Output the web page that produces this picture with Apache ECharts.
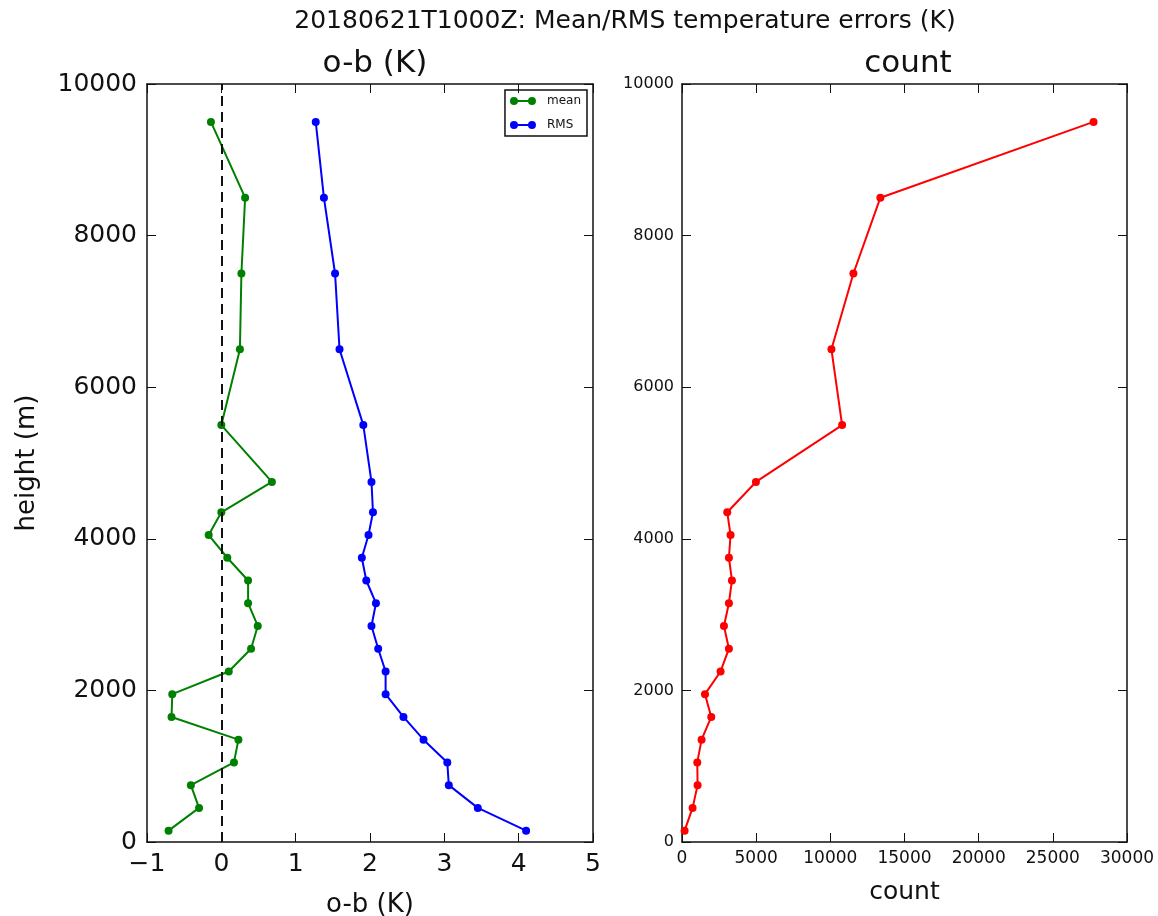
<!DOCTYPE html>
<html>
<head>
<meta charset="utf-8">
<script src="https://cdn.jsdelivr.net/npm/echarts@6/dist/echarts.min.js"></script>
<style>
  html, body { margin: 0; padding: 0; background: #fff; }
  #chart { width: 1158px; height: 916px; }
</style>
</head>
<body>
<div id="chart"></div>
<script>
// Observation heights (m), bin centres
const heights = [150, 450, 750, 1050, 1350, 1650, 1950, 2250, 2550, 2850, 3150,
                 3450, 3750, 4050, 4350, 4750, 5500, 6500, 7500, 8500, 9500];
// Mean o-b temperature error (K)
const meanErr = [-0.71, -0.30, -0.41, 0.17, 0.23, -0.67, -0.66, 0.10, 0.40, 0.49, 0.36,
                 0.36, 0.08, -0.17, 0.00, 0.68, 0.00, 0.25, 0.27, 0.32, -0.14];
// RMS o-b temperature error (K)
const rmsErr = [4.10, 3.45, 3.06, 3.04, 2.72, 2.45, 2.21, 2.21, 2.11, 2.02, 2.08,
                1.95, 1.89, 1.98, 2.04, 2.02, 1.91, 1.59, 1.53, 1.38, 1.27];
// Number of observations per level
const counts = [175, 714, 1051, 1030, 1320, 1973, 1549, 2600, 3163, 2828, 3163,
                3367, 3163, 3274, 3051, 4983, 10795, 10074, 11556, 13374, 27744];

const FONT = 'DejaVu Sans';
const pairs = (xs) => heights.map((h, i) => [xs[i], h]);
const signed = (v) => (v < 0 ? '\u2212' + Math.abs(v) : String(v));
const plain = (v) => String(v);

const axisLine = { show: true, onZero: false, lineStyle: { color: '#111', width: 1.5 } };
const tickIn = { show: true, inside: true, length: 9, lineStyle: { color: '#111', width: 1 } };
const frame = { axisLine, axisTick: tickIn, splitLine: { show: false }, axisLabel: { show: false } };

// Line-with-two-dots legend glyph
const legendIcon = 'path://M4,0 A4,4 0 1,1 4,8 A4,4 0 1,1 4,0 Z M4,3 L22,3 L22,5 L4,5 Z M22,0 A4,4 0 1,1 22,8 A4,4 0 1,1 22,0 Z';

const chart = echarts.init(document.getElementById('chart'), null, { renderer: 'canvas' });

const option = {
  backgroundColor: '#fff',
  animation: false,
  textStyle: { fontFamily: FONT },
  title: [
    { text: '20180621T1000Z: Mean/RMS temperature errors (K)', left: 620, top: 4, textAlign: 'center',
      textStyle: { fontFamily: FONT, fontSize: 25, fontWeight: 'normal', color: '#111' } },
    { text: 'o-b (K)', left: 370, top: 43, textAlign: 'center',
      textStyle: { fontFamily: FONT, fontSize: 31, fontWeight: 'normal', color: '#111' } },
    { text: 'count', left: 903, top: 43, textAlign: 'center',
      textStyle: { fontFamily: FONT, fontSize: 31, fontWeight: 'normal', color: '#111' } }
  ],
  legend: {
    data: ['mean', 'RMS'],
    orient: 'vertical',
    right: 571,
    top: 90,
    borderColor: '#111',
    borderWidth: 1.5,
    padding: [5, 6, 5, 5],
    itemGap: 12,
    itemWidth: 26,
    itemHeight: 8,
    icon: legendIcon,
    textStyle: { fontFamily: FONT, fontSize: 12, color: '#111', padding: [0, 0, 0, 6] }
  },
  grid: [
    { left: 147, right: 565, top: 84, bottom: 74, outerBoundsMode: 'none' },
    { left: 682, right: 31, top: 84, bottom: 74, outerBoundsMode: 'none' }
  ],
  xAxis: [
    { gridIndex: 0, type: 'value', min: -1, max: 5, interval: 1,
      name: 'o-b (K)', nameLocation: 'middle', nameGap: 50,
      nameTextStyle: { fontFamily: FONT, fontSize: 26, color: '#111' },
      axisLine, axisTick: tickIn, splitLine: { show: false },
      axisLabel: { fontFamily: FONT, fontSize: 25, color: '#111', margin: 10, formatter: signed } },
    Object.assign({ gridIndex: 0, type: 'value', position: 'top', min: -1, max: 5, interval: 1 }, frame),
    { gridIndex: 1, type: 'value', min: 0, max: 30000, interval: 5000,
      name: 'count', nameLocation: 'middle', nameGap: 38,
      nameTextStyle: { fontFamily: FONT, fontSize: 25, color: '#111' },
      axisLine, axisTick: tickIn, splitLine: { show: false },
      axisLabel: { fontFamily: FONT, fontSize: 17, color: '#111', margin: 8, formatter: plain } },
    Object.assign({ gridIndex: 1, type: 'value', position: 'top', min: 0, max: 30000, interval: 5000 }, frame)
  ],
  yAxis: [
    { gridIndex: 0, type: 'value', min: 0, max: 10000, interval: 2000,
      name: 'height (m)', nameLocation: 'middle', nameGap: 107,
      nameTextStyle: { fontFamily: FONT, fontSize: 26, color: '#111' },
      axisLine, axisTick: tickIn, splitLine: { show: false },
      axisLabel: { fontFamily: FONT, fontSize: 25, color: '#111', margin: 10, formatter: plain } },
    Object.assign({ gridIndex: 0, type: 'value', position: 'right', min: 0, max: 10000, interval: 2000 }, frame),
    { gridIndex: 1, type: 'value', min: 0, max: 10000, interval: 2000,
      axisLine, axisTick: tickIn, splitLine: { show: false },
      axisLabel: { fontFamily: FONT, fontSize: 16, color: '#111', margin: 8, formatter: plain } },
    Object.assign({ gridIndex: 1, type: 'value', position: 'right', min: 0, max: 10000, interval: 2000 }, frame)
  ],
  series: [
    { name: 'mean', type: 'line', xAxisIndex: 0, yAxisIndex: 0, data: pairs(meanErr),
      color: '#008000', symbol: 'circle', symbolSize: 8,
      lineStyle: { width: 2, color: '#008000' }, itemStyle: { color: '#008000' },
      markLine: {
        silent: true, symbol: 'none', label: { show: false },
        lineStyle: { color: '#111', width: 2, type: [10, 6] },
        data: [{ xAxis: 0 }]
      } },
    { name: 'RMS', type: 'line', xAxisIndex: 0, yAxisIndex: 0, data: pairs(rmsErr),
      color: '#0000ff', symbol: 'circle', symbolSize: 8,
      lineStyle: { width: 2, color: '#0000ff' }, itemStyle: { color: '#0000ff' } },
    { name: 'count', type: 'line', xAxisIndex: 2, yAxisIndex: 2, data: pairs(counts),
      color: '#ff0000', symbol: 'circle', symbolSize: 8,
      lineStyle: { width: 2, color: '#ff0000' }, itemStyle: { color: '#ff0000' } }
  ]
};

chart.setOption(option);
</script>
</body>
</html>
